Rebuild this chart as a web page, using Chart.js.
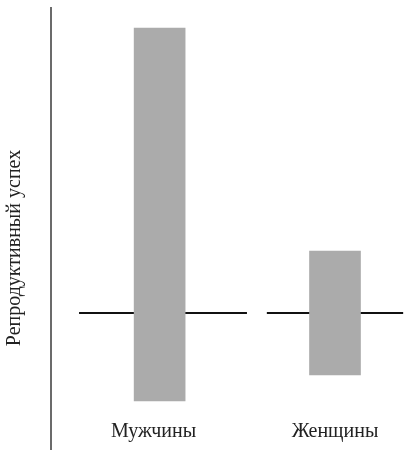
<!DOCTYPE html>
<html>
<head>
<meta charset="utf-8">
<script src="https://cdn.jsdelivr.net/npm/chart.js@4/dist/chart.umd.min.js"></script>
<style>
html,body{margin:0;padding:0;background:#fff;}
#wrap{width:406px;height:450px;}
</style>
</head>
<body>
<div id="wrap"><canvas id="c" width="406" height="450"></canvas></div>
<script>
// Categories, bar positions and label positions along the x axis
const categories = ['Мужчины', 'Женщины'];
const categoryX = [3.06, 8.0];
const labelX = [2.89, 8.0];
// Range of reproductive success (low, high), relative to the average (0)
const successLow = [-8.8, -6.2];
const successHigh = [28.5, 6.2];
// Average (baseline) lines: x start, x end, level
const baselineStart = [0.79, 6.08];
const baselineEnd = [5.52, 9.92];
const baselineLevel = 0;
const yTitle = 'Репродуктивный успех';

const barData = categories.map((c, i) => ({x: categoryX[i], y: [successLow[i], successHigh[i]]}));
const lineSets = baselineStart.map((s, i) => ({
  type: 'line',
  data: [{x: s, y: baselineLevel}, {x: baselineEnd[i], y: baselineLevel}],
  borderColor: '#111',
  borderWidth: 2,
  pointRadius: 0,
  order: 2
}));

const extras = {
  id: 'extras',
  afterDraw(chart) {
    const ctx = chart.ctx, a = chart.chartArea;
    ctx.save();
    ctx.strokeStyle = '#3a3a3a';
    ctx.lineWidth = 1.5;
    ctx.beginPath();
    ctx.moveTo(a.left, a.top);
    ctx.lineTo(a.left, chart.height);
    ctx.stroke();
    ctx.translate(15, 248);
    ctx.rotate(-Math.PI / 2);
    ctx.fillStyle = '#222';
    ctx.font = '20px "Liberation Serif", "DejaVu Serif", serif';
    ctx.textAlign = 'center';
    ctx.textBaseline = 'middle';
    ctx.fillText(yTitle, 0, 0);
    ctx.restore();
  }
};

new Chart(document.getElementById('c'), {
  type: 'bar',
  data: {
    datasets: [{
      data: barData,
      backgroundColor: '#ababab',
      borderWidth: 0,
      barThickness: 51,
      order: 1
    }, ...lineSets]
  },
  options: {
    responsive: false,
    animation: false,
    events: [],
    layout: {padding: {top: 7, left: 0, right: 0, bottom: 0}},
    plugins: {legend: {display: false}, tooltip: {enabled: false}},
    scales: {
      x: {
        type: 'linear',
        min: 0, max: 10,
        offset: false,
        grid: {display: false, drawTicks: false},
        border: {display: false},
        afterBuildTicks: (s) => { s.ticks = labelX.map(v => ({value: v})); },
        afterFit: (s) => { s.height = 32; },
        ticks: {
          padding: 2,
          color: '#222',
          font: {family: '"Liberation Serif", "DejaVu Serif", serif', size: 20},
          callback: (v, i) => categories[i]
        }
      },
      y: {
        min: -10.5, max: 30.6,
        grid: {display: false, drawTicks: false},
        border: {display: false},
        ticks: {display: false},
        afterFit: (s) => { s.width = 51; }
      }
    }
  },
  plugins: [extras]
});
</script>
</body>
</html>
